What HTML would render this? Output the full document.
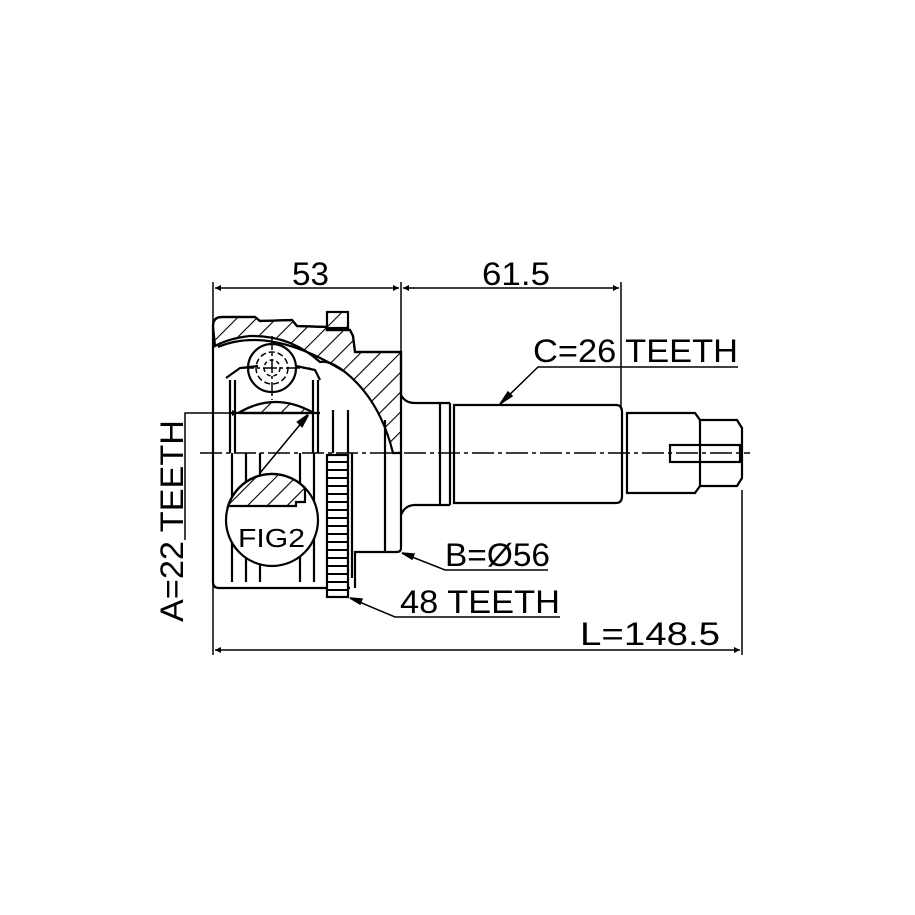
<!DOCTYPE html>
<html><head><meta charset="utf-8"><style>
html,body{margin:0;padding:0;background:#fff;}
svg{display:block;}
text{font-family:"Liberation Sans",sans-serif;fill:#000;}
</style></head><body>
<svg width="915" height="915" viewBox="0 0 915 915" xmlns="http://www.w3.org/2000/svg">
<defs>
<pattern id="h" width="14" height="14" patternUnits="userSpaceOnUse" patternTransform="rotate(45)">
<line x1="0" y1="0" x2="0" y2="14" stroke="#000" stroke-width="2.2"/>
</pattern>
<marker id="a" viewBox="0 0 10 10" refX="10" refY="5" markerWidth="14" markerHeight="6" orient="auto-start-reverse" markerUnits="userSpaceOnUse">
<path d="M0,0 L10,5 L0,10 z" fill="#000"/></marker>
</defs>
<g fill="none" stroke="#000" stroke-width="1.5">
<line x1="213" y1="282" x2="213" y2="655"/>
<line x1="401" y1="282" x2="401" y2="352"/>
<line x1="621" y1="282" x2="621" y2="410"/>
<line x1="742" y1="490" x2="742" y2="655"/>
<line x1="215" y1="288" x2="399" y2="288" marker-start="url(#a)" marker-end="url(#a)"/>
<line x1="403" y1="288" x2="619" y2="288" marker-start="url(#a)" marker-end="url(#a)"/>
<line x1="215" y1="650" x2="740" y2="650" marker-start="url(#a)" marker-end="url(#a)"/>
</g>
<g fill="none" stroke="#000" stroke-width="2.2">
<path d="M213,326 Q213,317 222,317 L255,317 L260,321 L292,320 L297,326 L327,327 L327,330 L350,330 L353,336 L355,352 L401,352 L401,453 L393,453 Q380,400 345,372 Q330,360 320,362 Q290,335 250,336 Q230,338 215,346 Z" fill="url(#h)"/>
<path d="M213,326 Q213,317 222,317 L255,317 L260,321 L292,320 L297,326 L327,327 L327,330 L350,330 L353,336 L355,352 L401,352 L401,395 Q405,403 415,403 L450,403"/>
<rect x="327" y="312" width="21" height="16" fill="url(#h)"/>
<path d="M213,326 L213,582 Q213,588 219,588 L350,588"/>
<path d="M355,588 L355,552 L397,552 Q401,552 401,548 L401,453"/>
<path d="M401,515 Q405,505 415,505 L450,505"/>
<path d="M218,347 Q270,325 345,372"/>
<path d="M226,378 L240,368 L258,366"/>
<path d="M296,366 L315,370 L320,380"/>
<line x1="230" y1="380" x2="230" y2="453"/>
<line x1="235" y1="380" x2="235" y2="453"/>
<line x1="313" y1="380" x2="313" y2="453"/>
<line x1="318" y1="380" x2="318" y2="453"/>
<line x1="333" y1="410" x2="333" y2="453"/>
<line x1="348" y1="410" x2="348" y2="453"/>
<line x1="385" y1="420" x2="385" y2="453"/>
<path d="M240,412 Q275,392 312,412 L310,413 L243,413 Z" fill="url(#h)"/>
<line x1="230" y1="413" x2="320" y2="413"/>
<circle cx="272" cy="368" r="24"/>
<circle cx="272" cy="368" r="16" stroke-dasharray="6,3" stroke-width="1.5"/>
<circle cx="272" cy="368" r="8" stroke-dasharray="4,3" stroke-width="1.5"/>
<line x1="240" y1="368" x2="310" y2="368" stroke-dasharray="14,3,3,3" stroke-width="1.5"/>
<line x1="272" y1="336" x2="272" y2="400" stroke-dasharray="14,3,3,3" stroke-width="1.5"/>
<line x1="232" y1="453" x2="232" y2="582"/>
<line x1="246" y1="453" x2="246" y2="582"/>
<line x1="260" y1="453" x2="260" y2="582"/>
<line x1="300" y1="453" x2="300" y2="582"/>
<line x1="314" y1="453" x2="314" y2="582"/>
<line x1="352" y1="453" x2="352" y2="578"/>
<line x1="385" y1="453" x2="385" y2="552"/>
<rect x="327" y="455" width="21" height="142" fill="#fff"/>
<g stroke-width="2">
<line x1="327" y1="462" x2="348" y2="462"/><line x1="327" y1="470" x2="348" y2="470"/><line x1="327" y1="478" x2="348" y2="478"/><line x1="327" y1="486" x2="348" y2="486"/><line x1="327" y1="494" x2="348" y2="494"/><line x1="327" y1="502" x2="348" y2="502"/><line x1="327" y1="510" x2="348" y2="510"/><line x1="327" y1="518" x2="348" y2="518"/><line x1="327" y1="526" x2="348" y2="526"/><line x1="327" y1="534" x2="348" y2="534"/><line x1="327" y1="542" x2="348" y2="542"/><line x1="327" y1="550" x2="348" y2="550"/><line x1="327" y1="558" x2="348" y2="558"/><line x1="327" y1="566" x2="348" y2="566"/><line x1="327" y1="574" x2="348" y2="574"/><line x1="327" y1="582" x2="348" y2="582"/><line x1="327" y1="590" x2="348" y2="590"/>
</g>
<circle cx="272" cy="520" r="46" fill="#fff"/>
<path d="M228,506 A46,46 0 0 1 305,488 L305,502 L296,502 L296,506 Z" fill="url(#h)"/>
<line x1="260" y1="473" x2="308" y2="415" stroke-width="1.5"/>
<path d="M308,415 L298,422 L302,426 Z" fill="#000"/>
<path d="M450,403 L450,505"/>
<path d="M454,405 L616,405 Q622,405 622,412 L622,496 Q622,503 616,503 L454,503 Z"/>
<line x1="440" y1="403" x2="440" y2="505"/>
<path d="M627,413 L695,413 L700,420 L737,420 L742,428 L742,478 L737,486 L700,486 L695,493 L627,493 Z"/>
<line x1="700" y1="420" x2="700" y2="486"/>
<rect x="670" y="445" width="70" height="17"/>
</g>
<g fill="none" stroke="#000" stroke-width="1.5">
<line x1="200" y1="453" x2="750" y2="453" stroke-dasharray="22,4,4,4"/>
<polyline points="185,540 185,413 238,413" marker-end="url(#a)"/>
<polyline points="738,367 538,367 500,404"/>
<path d="M500,404 L508,392 L512,396 Z" fill="#000"/>
<polyline points="548,570 445,570 402,553"/>
<path d="M402,553 L414,554 L412,559 Z" fill="#000"/>
<polyline points="560,617 395,617 350,598"/>
<path d="M350,598 L362,599 L360,604 Z" fill="#000"/>
</g>
<text x="292" y="285" font-size="32" textLength="37" lengthAdjust="spacingAndGlyphs">53</text>
<text x="482" y="285" font-size="32" textLength="68" lengthAdjust="spacingAndGlyphs">61.5</text>
<text x="533" y="362" font-size="32" textLength="205" lengthAdjust="spacingAndGlyphs">C=26 TEETH</text>
<text x="445" y="566" font-size="32" textLength="105" lengthAdjust="spacingAndGlyphs">B=Ø56</text>
<text x="400" y="613" font-size="32" textLength="160" lengthAdjust="spacingAndGlyphs">48 TEETH</text>
<text x="580" y="645" font-size="32" textLength="140" lengthAdjust="spacingAndGlyphs">L=148.5</text>
<text x="238" y="547" font-size="26" textLength="67" lengthAdjust="spacingAndGlyphs">FIG2</text>
<text transform="translate(183,622) rotate(-90)" font-size="32" textLength="202" lengthAdjust="spacingAndGlyphs">A=22 TEETH</text>
</svg>
</body></html>
